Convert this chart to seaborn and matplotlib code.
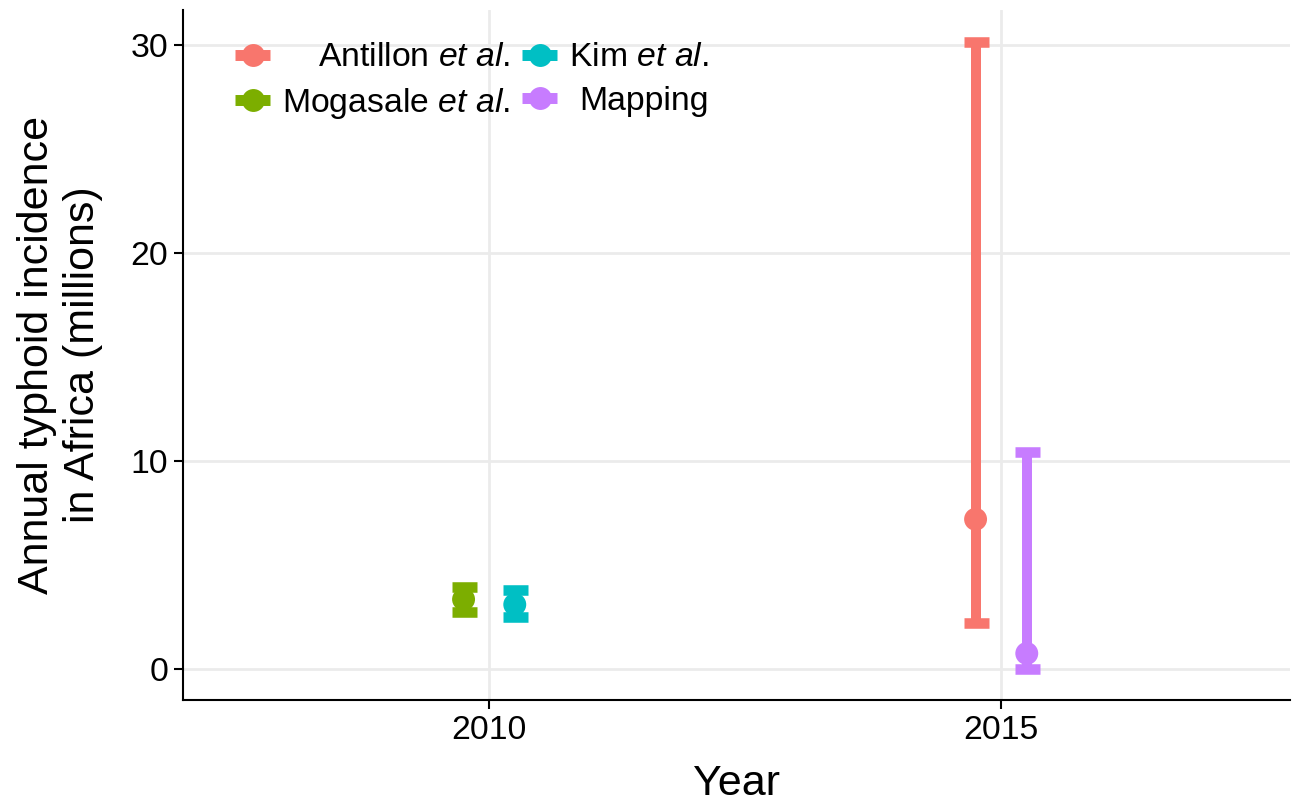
import matplotlib
matplotlib.use("Agg")
import matplotlib.pyplot as plt
from matplotlib.lines import Line2D
import pandas as pd
import seaborn as sns

# Estimates of annual typhoid incidence in Africa (millions)
studies = ["Antillon et al.", "Mogasale et al.", "Kim et al.", "Mapping"]
years = [2015, 2010, 2010, 2015]
estimate = [7.2, 3.35, 3.1, 0.75]
lower = [2.2, 2.76, 2.52, 0.0]
upper = [30.15, 3.92, 3.82, 10.43]

legend_labels = [
    r"Antillon $\mathit{et\ al.}$",
    r"Mogasale $\mathit{et\ al.}$",
    r"Kim $\mathit{et\ al.}$",
    "Mapping",
]
palette = ["#F8766D", "#7CAE00", "#00BFC4", "#C77CFF"]
x_ticks = [2010, 2015]
y_ticks = [0, 10, 20, 30]

sns.set_theme(style="whitegrid")
plt.rcParams["font.family"] = ["Liberation Sans", "DejaVu Sans"]
plt.rcParams["mathtext.fontset"] = "custom"
plt.rcParams["mathtext.rm"] = "Liberation Sans"
plt.rcParams["mathtext.it"] = "Liberation Sans:italic"
plt.rcParams["text.color"] = "black"

df = pd.DataFrame({"study": studies, "year": years, "est": estimate,
                   "lo": lower, "hi": upper})
# side-by-side dodge within each year
dodge = {"Antillon et al.": -0.25, "Mogasale et al.": -0.25,
         "Kim et al.": 0.25, "Mapping": 0.25}
df["xpos"] = df["year"] + df["study"].map(dodge)

fig = plt.figure(figsize=(12.95, 8.05), dpi=100)
ax = fig.add_axes([0.1413, 0.1304, 0.8548, 0.8572])

colors = dict(zip(studies, palette))
for _, r in df.iterrows():
    ax.errorbar(r["xpos"], r["est"],
                yerr=[[r["est"] - r["lo"]], [r["hi"] - r["est"]]],
                fmt="none", ecolor=colors[r["study"]], elinewidth=7.2,
                capsize=9, capthick=7.6, zorder=3)

sns.scatterplot(data=df, x="xpos", y="est", hue="study", hue_order=studies,
                palette=palette, s=16.5 ** 2, linewidth=0, legend=False,
                ax=ax, zorder=4)

ax.set_xlim(2007.01, 2017.82)
ax.set_ylim(-1.49, 31.68)
ax.set_xticks(x_ticks)
ax.set_yticks(y_ticks)
ax.set_xticklabels([str(v) for v in x_ticks])
ax.set_yticklabels([str(v) for v in y_ticks])
ax.grid(True, color="#EBEBEB", linewidth=2.0)
ax.set_axisbelow(True)
for side in ["top", "right"]:
    ax.spines[side].set_visible(False)
for side in ["left", "bottom"]:
    ax.spines[side].set_color("black")
    ax.spines[side].set_linewidth(1.5)
ax.tick_params(axis="both", which="major", length=6.5, width=1.5,
               color="black", labelsize=24.3, labelcolor="black", pad=4,
               bottom=True, left=True)
ax.set_xlabel("Year", fontsize=31, color="black", labelpad=13)
ax.set_ylabel("Annual typhoid incidence\nin Africa (millions)", fontsize=31,
              color="black", labelpad=20)

handles = [Line2D([], [], color=c, marker="o", markersize=16.5, linewidth=7.9,
                  markeredgewidth=0, solid_capstyle="butt") for c in palette]
leg = ax.legend(handles, legend_labels, ncol=2, loc="upper left",
                bbox_to_anchor=(0.047, 0.953), frameon=False, fontsize=24.3,
                handlelength=1.05, handletextpad=0.35, columnspacing=0.35,
                labelspacing=0.36, borderpad=0, borderaxespad=0)
for t in leg.get_texts():
    t.set_color("black")

# right-align the legend labels within each column
fig.canvas.draw()
renderer = fig.canvas.get_renderer()
px_per_pt = renderer.points_to_pixels(1.0)
for col in leg._legend_handle_box.get_children():
    rows = col.get_children()
    widths = [row.get_children()[1].get_bbox(renderer).width for row in rows]
    wmax = max(widths)
    for row, w in zip(rows, widths):
        row.sep += (wmax - w) / px_per_pt

fig.savefig("out.png", dpi=100)
